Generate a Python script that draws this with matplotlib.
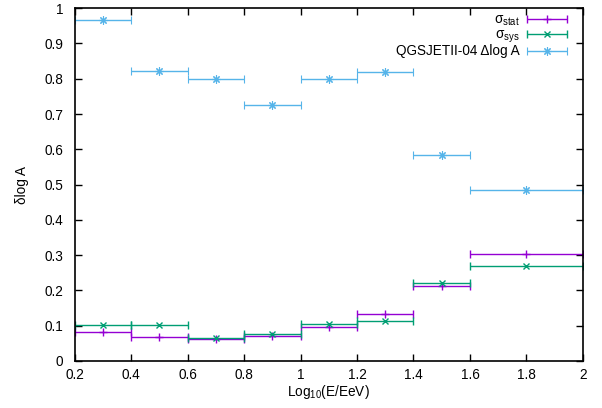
import numpy as np
import matplotlib.pyplot as plt
from matplotlib.ticker import FormatStrFormatter, MultipleLocator
from matplotlib.legend_handler import HandlerErrorbar
from matplotlib.container import ErrorbarContainer

plt.rcParams['font.family'] = ['Liberation Sans', 'DejaVu Sans']
plt.rcParams['mathtext.default'] = 'regular'
plt.rcParams['font.size'] = 9.8

# bin centres and half widths (Log10(E/EeV))
x = [0.3, 0.5, 0.7, 0.9, 1.1, 1.3, 1.5, 1.8]
xerr_lo = [0.1, 0.1, 0.1, 0.1, 0.1, 0.1, 0.1, 0.2]
xerr_hi = [0.1, 0.1, 0.1, 0.1, 0.1, 0.1, 0.1, 0.2]

sig_stat = [0.081, 0.067, 0.063, 0.071, 0.095, 0.132, 0.212, 0.304]
sig_sys = [0.102, 0.101, 0.064, 0.076, 0.104, 0.114, 0.220, 0.270]
qgs_dlogA = [0.966, 0.821, 0.800, 0.725, 0.800, 0.819, 0.583, 0.486]

fig = plt.figure(figsize=(6.02, 4.08), dpi=100)
ax = fig.add_axes([0.1238, 0.1152, 0.9684 - 0.1238, 0.980 - 0.1152])

xerr = [xerr_lo, xerr_hi]
ax.errorbar(x, sig_stat, xerr=xerr, fmt='+', color='#9400d3', ms=6, mew=1,
            elinewidth=1, capsize=3, capthick=1, label=r'σ$_{stat}$')
ax.errorbar(x, sig_sys, xerr=xerr, fmt='x', color='#009e73', ms=5, mew=1,
            elinewidth=1, capsize=3, capthick=1, label=r'σ$_{sys}$')
ax.errorbar(x, qgs_dlogA, xerr=xerr, marker=(8, 2, 0), ls='none',
            color='#56b4e9', ms=6, mew=0.8, elinewidth=1, capsize=3,
            capthick=1, label='QGSJETII-04 Δlog A')

ax.set_xlim(0.2, 2)
ax.set_ylim(0, 1)
ax.xaxis.set_major_locator(MultipleLocator(0.2))
ax.yaxis.set_major_locator(MultipleLocator(0.1))
ax.xaxis.set_major_formatter(FormatStrFormatter('%g'))
ax.yaxis.set_major_formatter(FormatStrFormatter('%g'))
ax.tick_params(direction='in', top=True, right=True, length=5, width=1,
               labelsize=9.8)
ax.tick_params(axis='x', pad=5)
ax.tick_params(axis='y', pad=8)
for s in ax.spines.values():
    s.set_linewidth(1.2)

ax.set_xlabel(r'Log$_{10}$(E/EeV)', labelpad=1)
ax.set_ylabel('δlog A', labelpad=11)

leg = ax.legend(loc='upper right', bbox_to_anchor=(0.975, 0.996),
                markerfirst=False, frameon=False,
                handlelength=3.0, handletextpad=0.5, labelspacing=-0.03,
                borderaxespad=0, borderpad=0.2,
                handler_map={ErrorbarContainer: HandlerErrorbar(xerr_size=1.47)})
for t in leg.get_texts():
    t.set_ha('right')

fig.savefig('out.png', dpi=100)
